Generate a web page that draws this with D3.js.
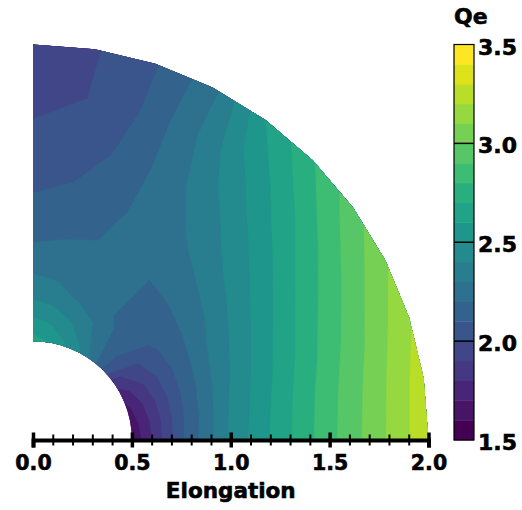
<!DOCTYPE html>
<html><head><meta charset="utf-8">
<script src="https://cdn.jsdelivr.net/npm/d3@7"></script>
<style>
body{margin:0;background:#fff}
text{font-family:"DejaVu Sans",sans-serif;font-weight:bold;fill:#000;stroke:#000;stroke-width:0.6px}
</style>
</head><body>
<svg id="chart" width="522" height="510"></svg>
<script>
// radial nodes (Elongation units) and angular nodes (degrees)
const rNodes = [0.5, 0.75, 1.0, 1.25, 1.5, 1.75, 2.0];
const thetaNodes = [0, 9, 18, 27, 36, 45, 54, 63, 72, 81, 90];
// Qe values, one row per angle, columns follow rNodes
const qeT00 = [1.61, 2.08, 2.42, 2.65, 2.87, 3.07, 3.28];
const qeT09 = [1.63, 2.07, 2.40, 2.63, 2.85, 3.05, 3.26];
const qeT18 = [1.67, 2.06, 2.36, 2.58, 2.79, 2.99, 3.19];
const qeT27 = [1.74, 2.06, 2.31, 2.51, 2.71, 2.90, 3.09];
const qeT36 = [1.86, 2.08, 2.25, 2.43, 2.60, 2.78, 2.96];
const qeT45 = [2.08, 2.13, 2.21, 2.35, 2.48, 2.63, 2.79];
const qeT54 = [2.28, 2.18, 2.20, 2.28, 2.36, 2.47, 2.60];
const qeT63 = [2.42, 2.24, 2.20, 2.23, 2.25, 2.27, 2.26];
const qeT72 = [2.52, 2.29, 2.21, 2.17, 2.12, 2.10, 2.09];
const qeT81 = [2.60, 2.33, 2.21, 2.12, 2.05, 2.00, 1.99];
const qeT90 = [2.64, 2.36, 2.20, 2.10, 2.04, 1.96, 1.93];
const qeRows = [qeT00, qeT09, qeT18, qeT27, qeT36, qeT45, qeT54, qeT63, qeT72, qeT81, qeT90];
// contour levels and tick labels
const levels = [1.5,1.6,1.7,1.8,1.9,2.0,2.1,2.2,2.3,2.4,2.5,2.6,2.7,2.8,2.9,3.0,3.1,3.2,3.3,3.4,3.5];
const xMajorTicks = [0, 0.5, 1.0, 1.5, 2.0];
const xMinorTicks = [0.1,0.2,0.3,0.4,0.6,0.7,0.8,0.9,1.1,1.2,1.3,1.4,1.6,1.7,1.8,1.9];
const cbTicks = [1.5, 2.0, 2.5, 3.0, 3.5];
const cbLines = [2.0, 2.5, 3.0];

const svg = d3.select("#chart");
const x = d3.scaleLinear().domain([0, 2]).range([33, 428.5]);
const y = d3.scaleLinear().domain([0, 2]).range([440, 44.5]);
const nBands = levels.length - 1;
const color = i => d3.interpolateViridis(i / (nBands - 1));

// padded grid (edge values repeated) so contours reach the domain edges
const nr = rNodes.length, nt = thetaNodes.length;
const nx = nr + 2, ny = nt + 2;
const grid = new Array(nx * ny);
for (let j = 0; j < ny; j++) for (let i = 0; i < nx; i++) {
  const jj = Math.max(0, Math.min(nt - 1, j - 1));
  const ii = Math.max(0, Math.min(nr - 1, i - 1));
  grid[j * nx + i] = qeRows[jj][ii];
}
const rIdx = d3.scaleLinear().domain(rNodes.map((_, k) => k + 1.5)).range(rNodes);
const tIdx = d3.scaleLinear().domain(thetaNodes.map((_, k) => k + 1.5)).range(thetaNodes);
const proj = d3.geoTransform({point: function(cx, cy) {
  const r = rIdx(cx), th = tIdx(cy) * Math.PI / 180;
  this.stream.point(x(r * Math.cos(th)), y(r * Math.sin(th)));
}});
const path = d3.geoPath(proj);

// clip region: quarter annulus, polygonal outer edge through the angle nodes
const rIn = rNodes[0], rOut = rNodes[nr - 1];
let clipD = `M${x(rIn)},${y(0)}`;
thetaNodes.forEach(t => {
  const a = t * Math.PI / 180;
  clipD += `L${x(rOut * Math.cos(a))},${y(rOut * Math.sin(a))}`;
});
clipD += `L${x(0)},${y(rIn)}`;
const pr = x(rIn) - x(0);
clipD += `A${pr},${pr} 0 0 1 ${x(rIn)},${y(0)}Z`;
svg.append("defs").append("clipPath").attr("id", "ann").append("path").attr("d", clipD);

const contours = d3.contours().size([nx, ny]).thresholds(levels.slice(0, nBands))(grid);
svg.append("g").attr("clip-path", "url(#ann)")
  .selectAll("path").data(contours).join("path")
  .attr("d", path)
  .attr("fill", (d, i) => color(i))
  .attr("stroke", (d, i) => color(i))
  .attr("stroke-width", 0.3);

// x axis
const axisY = 440;
const gMinor = svg.append("g").attr("transform", `translate(0,${axisY})`)
  .call(d3.axisBottom(x).tickValues(xMinorTicks).tickFormat("").tickSizeOuter(0).tickSize(5.5));
gMinor.select(".domain").remove();
gMinor.selectAll(".tick line").attr("y1", -5.5).attr("y2", 5.5).attr("stroke", "#000").attr("stroke-width", 2);
const gMajor = svg.append("g").attr("transform", `translate(0,${axisY})`)
  .call(d3.axisBottom(x).tickValues(xMajorTicks).tickFormat(d3.format(".1f")).tickSizeOuter(0).tickSize(7.5).tickPadding(12));
gMajor.select(".domain").attr("stroke", "#000").attr("stroke-width", 4);
gMajor.selectAll(".tick line").attr("y1", -7.5).attr("y2", 7.5).attr("stroke", "#000").attr("stroke-width", 3.5);
gMajor.selectAll(".tick text").attr("font-size", 20.5).attr("font-family", "DejaVu Sans").attr("font-weight", "bold")
  .attr("dy", null).attr("y", 30).attr("fill", "#000");
svg.append("text").attr("x", (x(0) + x(2)) / 2).attr("y", 498).attr("text-anchor", "middle")
  .attr("font-size", 21.5).text("Elongation");

// colorbar
const cbX = 454, cbW = 20;
const cb = d3.scaleLinear().domain([levels[0], levels[nBands]]).range([440, 44.5]);
const gcb = svg.append("g");
gcb.selectAll("rect.band").data(d3.range(nBands)).join("rect").attr("class", "band")
  .attr("x", cbX).attr("width", cbW)
  .attr("y", i => cb(levels[i + 1])).attr("height", i => cb(levels[i]) - cb(levels[i + 1]) + 0.4)
  .attr("fill", i => color(i));
gcb.append("rect").attr("x", cbX).attr("y", cb(levels[nBands])).attr("width", cbW)
  .attr("height", cb(levels[0]) - cb(levels[nBands])).attr("fill", "none").attr("stroke", "#000").attr("stroke-width", 1.2);
gcb.selectAll("line.cbl").data(cbLines).join("line").attr("class", "cbl")
  .attr("x1", cbX).attr("x2", cbX + cbW).attr("y1", d => cb(d)).attr("y2", d => cb(d))
  .attr("stroke", "#000").attr("stroke-width", 1.5);
gcb.selectAll("text.cbt").data(cbTicks).join("text").attr("class", "cbt")
  .attr("x", 478).attr("y", d => cb(d) + 10).attr("font-size", 22)
  .text(d => d3.format(".1f")(d));
svg.append("text").attr("x", 454).attr("y", 24).attr("font-size", 22).text("Qe");
</script>
</body></html>
